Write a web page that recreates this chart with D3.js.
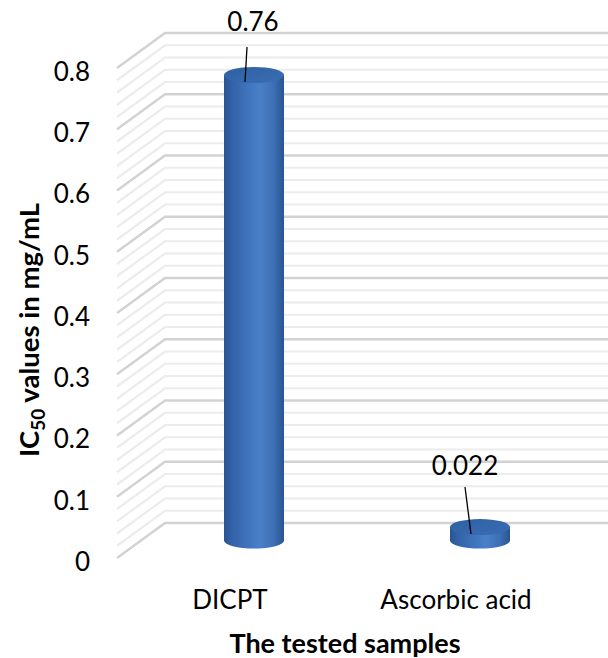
<!DOCTYPE html>
<html>
<head>
<meta charset="utf-8">
<script src="https://cdn.jsdelivr.net/npm/d3@7/dist/d3.min.js"></script>
<style>
  html, body { margin: 0; padding: 0; background: #fff; }
  svg { display: block; }
  text { font-family: Lato, "Open Sans", sans-serif; fill: #000; }
</style>
</head>
<body>
<script>
// ---- data ----
const categories = ["DICPT", "Ascorbic acid"];
const values = [0.76, 0.022];
const valueLabels = ["0.76", "0.022"];
const tickValues = [0, 0.1, 0.2, 0.3, 0.4, 0.5, 0.6, 0.7, 0.8];
const tickLabels = ["0", "0.1", "0.2", "0.3", "0.4", "0.5", "0.6", "0.7", "0.8"];
const minorStep = 0.02;
const yTitleMain = "IC";
const yTitleSub = "50";
const yTitleRest = " values in mg/mL";
const xTitle = "The tested samples";

// ---- layout ----
const W = 608, H = 658;
const depthDx = 48, depthDy = -35;       // offset of back wall relative to front plane
const svg = d3.select("body").append("svg").attr("width", W).attr("height", H);

const y = d3.scaleLinear().domain([0, 0.8]).range([558, 68]);   // front plane
const x = d3.scaleBand().domain(categories).range([117, 569]).paddingInner(0).paddingOuter(0);

const defs = svg.append("defs");
const bodyGrad = defs.append("linearGradient").attr("id", "cylBody").attr("x1", "0").attr("x2", "1").attr("y1", "0").attr("y2", "0");
[["0%", "#2a5592"], ["12%", "#3261a6"], ["40%", "#3f74bc"], ["60%", "#4a80c8"], ["82%", "#3d70b6"], ["100%", "#2a5490"]]
  .forEach(([o, c]) => bodyGrad.append("stop").attr("offset", o).attr("stop-color", c));
const topGrad = defs.append("linearGradient").attr("id", "cylTop").attr("x1", "0").attr("x2", "1").attr("y1", "0").attr("y2", "1");
[["0%", "#2e60a3"], ["100%", "#3a6db3"]].forEach(([o, c]) => topGrad.append("stop").attr("offset", o).attr("stop-color", c));

// ---- gridlines (side wall + back wall) ----
const grid = svg.append("g");
const x0 = x.range()[0], x1 = x.range()[1];
const minorTicks = d3.range(0, 0.8 + 1e-9, minorStep);
minorTicks.forEach(v => {
  const isMajor = Math.abs(v * 10 - Math.round(v * 10)) < 1e-6;
  if (isMajor) return;
  grid.append("path")
    .attr("d", `M${x0},${y(v)} L${x0 + depthDx},${y(v) + depthDy} L${x1 + depthDx},${y(v) + depthDy}`)
    .attr("fill", "none").attr("stroke", "#ececec").attr("stroke-width", 2.2);
});
tickValues.forEach(v => {
  grid.append("path")
    .attr("d", `M${x0},${y(v)} L${x0 + depthDx},${y(v) + depthDy} L${x1 + depthDx},${y(v) + depthDy}`)
    .attr("fill", "none").attr("stroke", "#d2d2d2").attr("stroke-width", 2.4);
});

// ---- y tick labels ----
svg.append("g").selectAll("text").data(tickValues).join("text")
  .attr("x", 90).attr("y", d => y(d) + 3.5).attr("dy", "0.36em")
  .attr("text-anchor", "end").attr("font-size", 26)
  .text((d, i) => tickLabels[i]);

// ---- cylinders ----
const cylW = 60, ry = 8;
const midDx = depthDx / 2, midDy = depthDy / 2;
const bars = svg.append("g");
categories.forEach((c, i) => {
  const cx = x(c) + x.bandwidth() / 2 + midDx;
  const yTop = y(values[i]) + midDy;
  const yBot = y(0) + midDy;
  const l = cx - cylW / 2, r = cx + cylW / 2, rx = cylW / 2;
  bars.append("path")
    .attr("d", `M${l},${yTop} L${l},${yBot} A${rx},${ry} 0 0 0 ${r},${yBot} L${r},${yTop} Z`)
    .attr("fill", "url(#cylBody)");
  bars.append("ellipse").attr("cx", cx).attr("cy", yTop).attr("rx", rx).attr("ry", ry)
    .attr("fill", "url(#cylTop)");
});

// ---- data labels with leader lines ----
const labelOffsets = [
  { lx: -1, ly: -53, sx: -7, sy: -28 },   // label centre / leader start relative to top centre
  { lx: -15, ly: -61, sx: -15, sy: -40 }
];
const lab = svg.append("g");
categories.forEach((c, i) => {
  const cx = x(c) + x.bandwidth() / 2 + midDx;
  const yTop = y(values[i]) + midDy;
  const o = labelOffsets[i];
  const ex = cx - 9, ey = yTop + 7;
  lab.append("line").attr("x1", cx + o.sx).attr("y1", yTop + o.sy).attr("x2", ex).attr("y2", ey)
    .attr("stroke", "#000").attr("stroke-width", 1.3);
  lab.append("text").attr("x", cx + o.lx).attr("y", yTop + o.ly).attr("dy", "0.36em")
    .attr("text-anchor", "middle").attr("font-size", 26).text(valueLabels[i]);
});

// ---- category labels ----
svg.append("g").selectAll("text").data(categories).join("text")
  .attr("x", d => x(d) + x.bandwidth() / 2).attr("y", 609)
  .attr("text-anchor", "middle").attr("font-size", 26).text(d => d);

// ---- axis titles ----
svg.append("text").attr("x", 345).attr("y", 653).attr("text-anchor", "middle")
  .attr("font-size", 27).attr("font-weight", "bold").text(xTitle);

const yt = svg.append("text").attr("transform", "translate(39,330) rotate(-90)")
  .attr("text-anchor", "middle").attr("font-size", 27.5).attr("font-weight", "bold");
yt.append("tspan").text(yTitleMain);
yt.append("tspan").attr("font-size", 19).attr("dy", 6).text(yTitleSub);
yt.append("tspan").attr("dy", -6).text(yTitleRest);
</script>
</body>
</html>
